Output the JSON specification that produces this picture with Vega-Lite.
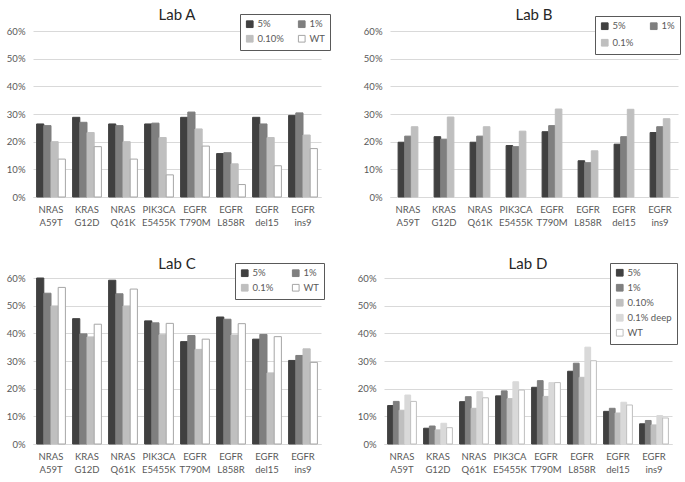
{
  "$schema": "https://vega.github.io/schema/vega-lite/v6.json",
  "background": "white",
  "padding": {"left": 6, "top": 7, "right": 5, "bottom": 2},
  "datasets": {
    "d": [
      {"lab": "A", "mut": "NRAS A59T", "s": "5%", "v": 0.264},
      {"lab": "A", "mut": "NRAS A59T", "s": "1%", "v": 0.258},
      {"lab": "A", "mut": "NRAS A59T", "s": "0.10%", "v": 0.200},
      {"lab": "A", "mut": "NRAS A59T", "s": "WT", "v": 0.137},
      {"lab": "A", "mut": "KRAS G12D", "s": "5%", "v": 0.288},
      {"lab": "A", "mut": "KRAS G12D", "s": "1%", "v": 0.270},
      {"lab": "A", "mut": "KRAS G12D", "s": "0.10%", "v": 0.233},
      {"lab": "A", "mut": "KRAS G12D", "s": "WT", "v": 0.182},
      {"lab": "A", "mut": "NRAS Q61K", "s": "5%", "v": 0.264},
      {"lab": "A", "mut": "NRAS Q61K", "s": "1%", "v": 0.258},
      {"lab": "A", "mut": "NRAS Q61K", "s": "0.10%", "v": 0.200},
      {"lab": "A", "mut": "NRAS Q61K", "s": "WT", "v": 0.137},
      {"lab": "A", "mut": "PIK3CA E5455K", "s": "5%", "v": 0.264},
      {"lab": "A", "mut": "PIK3CA E5455K", "s": "1%", "v": 0.267},
      {"lab": "A", "mut": "PIK3CA E5455K", "s": "0.10%", "v": 0.215},
      {"lab": "A", "mut": "PIK3CA E5455K", "s": "WT", "v": 0.080},
      {"lab": "A", "mut": "EGFR T790M", "s": "5%", "v": 0.288},
      {"lab": "A", "mut": "EGFR T790M", "s": "1%", "v": 0.307},
      {"lab": "A", "mut": "EGFR T790M", "s": "0.10%", "v": 0.246},
      {"lab": "A", "mut": "EGFR T790M", "s": "WT", "v": 0.184},
      {"lab": "A", "mut": "EGFR L858R", "s": "5%", "v": 0.157},
      {"lab": "A", "mut": "EGFR L858R", "s": "1%", "v": 0.160},
      {"lab": "A", "mut": "EGFR L858R", "s": "0.10%", "v": 0.120},
      {"lab": "A", "mut": "EGFR L858R", "s": "WT", "v": 0.045},
      {"lab": "A", "mut": "EGFR del15", "s": "5%", "v": 0.288},
      {"lab": "A", "mut": "EGFR del15", "s": "1%", "v": 0.264},
      {"lab": "A", "mut": "EGFR del15", "s": "0.10%", "v": 0.215},
      {"lab": "A", "mut": "EGFR del15", "s": "WT", "v": 0.113},
      {"lab": "A", "mut": "EGFR ins9", "s": "5%", "v": 0.295},
      {"lab": "A", "mut": "EGFR ins9", "s": "1%", "v": 0.304},
      {"lab": "A", "mut": "EGFR ins9", "s": "0.10%", "v": 0.224},
      {"lab": "A", "mut": "EGFR ins9", "s": "WT", "v": 0.175},

      {"lab": "B", "mut": "NRAS A59T", "s": "5%", "v": 0.198},
      {"lab": "B", "mut": "NRAS A59T", "s": "1%", "v": 0.220},
      {"lab": "B", "mut": "NRAS A59T", "s": "0.1%", "v": 0.254},
      {"lab": "B", "mut": "KRAS G12D", "s": "5%", "v": 0.218},
      {"lab": "B", "mut": "KRAS G12D", "s": "1%", "v": 0.209},
      {"lab": "B", "mut": "KRAS G12D", "s": "0.1%", "v": 0.289},
      {"lab": "B", "mut": "NRAS Q61K", "s": "5%", "v": 0.198},
      {"lab": "B", "mut": "NRAS Q61K", "s": "1%", "v": 0.220},
      {"lab": "B", "mut": "NRAS Q61K", "s": "0.1%", "v": 0.254},
      {"lab": "B", "mut": "PIK3CA E5455K", "s": "5%", "v": 0.186},
      {"lab": "B", "mut": "PIK3CA E5455K", "s": "1%", "v": 0.182},
      {"lab": "B", "mut": "PIK3CA E5455K", "s": "0.1%", "v": 0.238},
      {"lab": "B", "mut": "EGFR T790M", "s": "5%", "v": 0.236},
      {"lab": "B", "mut": "EGFR T790M", "s": "1%", "v": 0.258},
      {"lab": "B", "mut": "EGFR T790M", "s": "0.1%", "v": 0.318},
      {"lab": "B", "mut": "EGFR L858R", "s": "5%", "v": 0.131},
      {"lab": "B", "mut": "EGFR L858R", "s": "1%", "v": 0.124},
      {"lab": "B", "mut": "EGFR L858R", "s": "0.1%", "v": 0.167},
      {"lab": "B", "mut": "EGFR del15", "s": "5%", "v": 0.191},
      {"lab": "B", "mut": "EGFR del15", "s": "1%", "v": 0.218},
      {"lab": "B", "mut": "EGFR del15", "s": "0.1%", "v": 0.317},
      {"lab": "B", "mut": "EGFR ins9", "s": "5%", "v": 0.233},
      {"lab": "B", "mut": "EGFR ins9", "s": "1%", "v": 0.254},
      {"lab": "B", "mut": "EGFR ins9", "s": "0.1%", "v": 0.283},

      {"lab": "C", "mut": "NRAS A59T", "s": "5%", "v": 0.600},
      {"lab": "C", "mut": "NRAS A59T", "s": "1%", "v": 0.545},
      {"lab": "C", "mut": "NRAS A59T", "s": "0.1%", "v": 0.499},
      {"lab": "C", "mut": "NRAS A59T", "s": "WT", "v": 0.566},
      {"lab": "C", "mut": "KRAS G12D", "s": "5%", "v": 0.453},
      {"lab": "C", "mut": "KRAS G12D", "s": "1%", "v": 0.398},
      {"lab": "C", "mut": "KRAS G12D", "s": "0.1%", "v": 0.387},
      {"lab": "C", "mut": "KRAS G12D", "s": "WT", "v": 0.433},
      {"lab": "C", "mut": "NRAS Q61K", "s": "5%", "v": 0.592},
      {"lab": "C", "mut": "NRAS Q61K", "s": "1%", "v": 0.543},
      {"lab": "C", "mut": "NRAS Q61K", "s": "0.1%", "v": 0.499},
      {"lab": "C", "mut": "NRAS Q61K", "s": "WT", "v": 0.560},
      {"lab": "C", "mut": "PIK3CA E5455K", "s": "5%", "v": 0.445},
      {"lab": "C", "mut": "PIK3CA E5455K", "s": "1%", "v": 0.438},
      {"lab": "C", "mut": "PIK3CA E5455K", "s": "0.1%", "v": 0.395},
      {"lab": "C", "mut": "PIK3CA E5455K", "s": "WT", "v": 0.436},
      {"lab": "C", "mut": "EGFR T790M", "s": "5%", "v": 0.370},
      {"lab": "C", "mut": "EGFR T790M", "s": "1%", "v": 0.392},
      {"lab": "C", "mut": "EGFR T790M", "s": "0.1%", "v": 0.342},
      {"lab": "C", "mut": "EGFR T790M", "s": "WT", "v": 0.379},
      {"lab": "C", "mut": "EGFR L858R", "s": "5%", "v": 0.459},
      {"lab": "C", "mut": "EGFR L858R", "s": "1%", "v": 0.451},
      {"lab": "C", "mut": "EGFR L858R", "s": "0.1%", "v": 0.394},
      {"lab": "C", "mut": "EGFR L858R", "s": "WT", "v": 0.435},
      {"lab": "C", "mut": "EGFR del15", "s": "5%", "v": 0.379},
      {"lab": "C", "mut": "EGFR del15", "s": "1%", "v": 0.396},
      {"lab": "C", "mut": "EGFR del15", "s": "0.1%", "v": 0.257},
      {"lab": "C", "mut": "EGFR del15", "s": "WT", "v": 0.388},
      {"lab": "C", "mut": "EGFR ins9", "s": "5%", "v": 0.302},
      {"lab": "C", "mut": "EGFR ins9", "s": "1%", "v": 0.320},
      {"lab": "C", "mut": "EGFR ins9", "s": "0.1%", "v": 0.344},
      {"lab": "C", "mut": "EGFR ins9", "s": "WT", "v": 0.295},

      {"lab": "D", "mut": "NRAS A59T", "s": "5%", "v": 0.139},
      {"lab": "D", "mut": "NRAS A59T", "s": "1%", "v": 0.154},
      {"lab": "D", "mut": "NRAS A59T", "s": "0.10%", "v": 0.122},
      {"lab": "D", "mut": "NRAS A59T", "s": "0.1% deep", "v": 0.177},
      {"lab": "D", "mut": "NRAS A59T", "s": "WT", "v": 0.154},
      {"lab": "D", "mut": "KRAS G12D", "s": "5%", "v": 0.057},
      {"lab": "D", "mut": "KRAS G12D", "s": "1%", "v": 0.065},
      {"lab": "D", "mut": "KRAS G12D", "s": "0.10%", "v": 0.051},
      {"lab": "D", "mut": "KRAS G12D", "s": "0.1% deep", "v": 0.075},
      {"lab": "D", "mut": "KRAS G12D", "s": "WT", "v": 0.059},
      {"lab": "D", "mut": "NRAS Q61K", "s": "5%", "v": 0.153},
      {"lab": "D", "mut": "NRAS Q61K", "s": "1%", "v": 0.171},
      {"lab": "D", "mut": "NRAS Q61K", "s": "0.10%", "v": 0.129},
      {"lab": "D", "mut": "NRAS Q61K", "s": "0.1% deep", "v": 0.189},
      {"lab": "D", "mut": "NRAS Q61K", "s": "WT", "v": 0.167},
      {"lab": "D", "mut": "PIK3CA E5455K", "s": "5%", "v": 0.174},
      {"lab": "D", "mut": "PIK3CA E5455K", "s": "1%", "v": 0.192},
      {"lab": "D", "mut": "PIK3CA E5455K", "s": "0.10%", "v": 0.164},
      {"lab": "D", "mut": "PIK3CA E5455K", "s": "0.1% deep", "v": 0.225},
      {"lab": "D", "mut": "PIK3CA E5455K", "s": "WT", "v": 0.195},
      {"lab": "D", "mut": "EGFR T790M", "s": "5%", "v": 0.205},
      {"lab": "D", "mut": "EGFR T790M", "s": "1%", "v": 0.229},
      {"lab": "D", "mut": "EGFR T790M", "s": "0.10%", "v": 0.172},
      {"lab": "D", "mut": "EGFR T790M", "s": "0.1% deep", "v": 0.222},
      {"lab": "D", "mut": "EGFR T790M", "s": "WT", "v": 0.222},
      {"lab": "D", "mut": "EGFR L858R", "s": "5%", "v": 0.263},
      {"lab": "D", "mut": "EGFR L858R", "s": "1%", "v": 0.292},
      {"lab": "D", "mut": "EGFR L858R", "s": "0.10%", "v": 0.241},
      {"lab": "D", "mut": "EGFR L858R", "s": "0.1% deep", "v": 0.350},
      {"lab": "D", "mut": "EGFR L858R", "s": "WT", "v": 0.301},
      {"lab": "D", "mut": "EGFR del15", "s": "5%", "v": 0.118},
      {"lab": "D", "mut": "EGFR del15", "s": "1%", "v": 0.129},
      {"lab": "D", "mut": "EGFR del15", "s": "0.10%", "v": 0.112},
      {"lab": "D", "mut": "EGFR del15", "s": "0.1% deep", "v": 0.151},
      {"lab": "D", "mut": "EGFR del15", "s": "WT", "v": 0.141},
      {"lab": "D", "mut": "EGFR ins9", "s": "5%", "v": 0.073},
      {"lab": "D", "mut": "EGFR ins9", "s": "1%", "v": 0.085},
      {"lab": "D", "mut": "EGFR ins9", "s": "0.10%", "v": 0.069},
      {"lab": "D", "mut": "EGFR ins9", "s": "0.1% deep", "v": 0.103},
      {"lab": "D", "mut": "EGFR ins9", "s": "WT", "v": 0.094}
    ]
  },
  "data": {"name": "d"},
  "spacing": 29,
  "resolve": {"scale": {"color": "independent", "stroke": "independent", "x": "independent", "xOffset": "independent", "y": "independent"}, "legend": {"color": "independent", "stroke": "independent"}},
  "vconcat": [
    {
      "spacing": 32,
      "resolve": {"scale": {"color": "independent", "stroke": "independent", "x": "independent", "xOffset": "independent", "y": "independent"}, "legend": {"color": "independent", "stroke": "independent"}},
      "hconcat": [
        {
          "title": {"text": "Lab A", "offset": -9},
          "width": 288, "height": 166,
          "transform": [{"filter": "datum.lab === 'A'"}],
          "mark": {"type": "bar", "strokeWidth": 1},
          "encoding": {
            "x": {"field": "mut", "type": "nominal", "sort": null, "title": null,
                  "scale": {"paddingInner": 0.2, "paddingOuter": 0.1}},
            "xOffset": {"field": "s", "type": "nominal", "scale": {"domain": ["5%", "1%", "0.10%", "WT"]}},
            "y": {"field": "v", "type": "quantitative", "title": null, "scale": {"domain": [0, 0.6]}},
            "color": {"field": "s", "type": "nominal",
                      "scale": {"domain": ["5%", "0.10%", "1%", "WT"], "range": ["#404040", "#bfbfbf", "#7f7f7f", "#ffffff"]},
                      "legend": {"legendX": 207, "legendY": -17, "columns": 2, "columnPadding": 12, "rowPadding": 3}},
            "stroke": {"field": "s", "type": "nominal",
                       "scale": {"domain": ["5%", "0.10%", "1%", "WT"], "range": ["#404040", "#bfbfbf", "#7f7f7f", "#a6a6a6"]},
                       "legend": {"legendX": 207, "legendY": -17, "columns": 2, "columnPadding": 12, "rowPadding": 3}}
          }
        },
        {
          "title": {"text": "Lab B", "offset": -7},
          "width": 288, "height": 166,
          "transform": [{"filter": "datum.lab === 'B'"}],
          "mark": {"type": "bar", "strokeWidth": 1},
          "encoding": {
            "x": {"field": "mut", "type": "nominal", "sort": null, "title": null,
                  "scale": {"paddingInner": 0.45, "paddingOuter": 0.225}},
            "xOffset": {"field": "s", "type": "nominal", "scale": {"domain": ["5%", "1%", "0.1%"]}},
            "y": {"field": "v", "type": "quantitative", "title": null, "scale": {"domain": [0, 0.6]}},
            "color": {"field": "s", "type": "nominal",
                      "scale": {"domain": ["5%", "0.1%", "1%"], "range": ["#404040", "#bfbfbf", "#7f7f7f"]},
                      "legend": {"legendX": 205, "legendY": -15, "columns": 2, "columnPadding": 14, "rowPadding": 5}},
            "stroke": {"field": "s", "type": "nominal",
                       "scale": {"domain": ["5%", "0.1%", "1%"], "range": ["#404040", "#bfbfbf", "#7f7f7f"]},
                       "legend": {"legendX": 205, "legendY": -15, "columns": 2, "columnPadding": 14, "rowPadding": 5}}
          }
        }
      ]
    },
    {
      "spacing": 32,
      "resolve": {"scale": {"color": "independent", "stroke": "independent", "x": "independent", "xOffset": "independent", "y": "independent"}, "legend": {"color": "independent", "stroke": "independent"}},
      "hconcat": [
        {
          "title": {"text": "Lab C", "offset": -9},
          "width": 288, "height": 166,
          "transform": [{"filter": "datum.lab === 'C'"}],
          "mark": {"type": "bar", "strokeWidth": 1},
          "encoding": {
            "x": {"field": "mut", "type": "nominal", "sort": null, "title": null,
                  "scale": {"paddingInner": 0.2, "paddingOuter": 0.1}},
            "xOffset": {"field": "s", "type": "nominal", "scale": {"domain": ["5%", "1%", "0.1%", "WT"]}},
            "y": {"field": "v", "type": "quantitative", "title": null, "scale": {"domain": [0, 0.6]}},
            "color": {"field": "s", "type": "nominal",
                      "scale": {"domain": ["5%", "0.1%", "1%", "WT"], "range": ["#404040", "#bfbfbf", "#7f7f7f", "#ffffff"]},
                      "legend": {"legendX": 202, "legendY": -15, "columns": 2, "columnPadding": 16, "rowPadding": 3}},
            "stroke": {"field": "s", "type": "nominal",
                       "scale": {"domain": ["5%", "0.1%", "1%", "WT"], "range": ["#404040", "#bfbfbf", "#7f7f7f", "#a6a6a6"]},
                       "legend": {"legendX": 202, "legendY": -15, "columns": 2, "columnPadding": 16, "rowPadding": 3}}
          }
        },
        {
          "title": {"text": "Lab D", "offset": -9},
          "width": 288, "height": 166,
          "transform": [{"filter": "datum.lab === 'D'"}],
          "mark": {"type": "bar", "strokeWidth": 1},
          "encoding": {
            "x": {"field": "mut", "type": "nominal", "sort": null, "title": null,
                  "scale": {"paddingInner": 0.2, "paddingOuter": 0.1}},
            "xOffset": {"field": "s", "type": "nominal", "scale": {"domain": ["5%", "1%", "0.10%", "0.1% deep", "WT"]}},
            "y": {"field": "v", "type": "quantitative", "title": null, "scale": {"domain": [0, 0.6]}},
            "color": {"field": "s", "type": "nominal",
                      "scale": {"domain": ["5%", "1%", "0.10%", "0.1% deep", "WT"], "range": ["#404040", "#7f7f7f", "#bfbfbf", "#d9d9d9", "#ffffff"]},
                      "legend": {"legendX": 226, "legendY": -15, "columns": 1, "rowPadding": 3}},
            "stroke": {"field": "s", "type": "nominal",
                       "scale": {"domain": ["5%", "1%", "0.10%", "0.1% deep", "WT"], "range": ["#404040", "#7f7f7f", "#bfbfbf", "#d9d9d9", "#bfbfbf"]},
                      "legend": {"legendX": 226, "legendY": -15, "columns": 1, "rowPadding": 3}}
          }
        }
      ]
    }
  ],
  "config": {
    "font": "Lato",
    "view": {"stroke": null},
    "title": {"fontSize": 15, "fontWeight": "normal", "color": "#262626", "anchor": "middle", "font": "Lato"},
    "axisX": {"labelAngle": 0, "ticks": false, "domainColor": "#d9d9d9", "labelFontSize": 9.5, "labelColor": "#595959",
              "labelPadding": 7, "labelExpr": "split(datum.label, ' ')", "labelLineHeight": 13, "grid": false},
    "axisY": {"format": ".0%", "values": [0, 0.1, 0.2, 0.3, 0.4, 0.5, 0.6], "domain": false, "ticks": false,
              "gridColor": "#d9d9d9", "labelFontSize": 9.5, "labelColor": "#595959", "labelPadding": 8},
    "legend": {"orient": "none", "title": null, "strokeColor": "#595959", "fillColor": "white", "padding": 5,
               "symbolType": "square", "symbolSize": 45, "labelFontSize": 9.5, "labelColor": "#595959",
               "labelOffset": 3, "symbolStrokeWidth": 1}
  }
}
